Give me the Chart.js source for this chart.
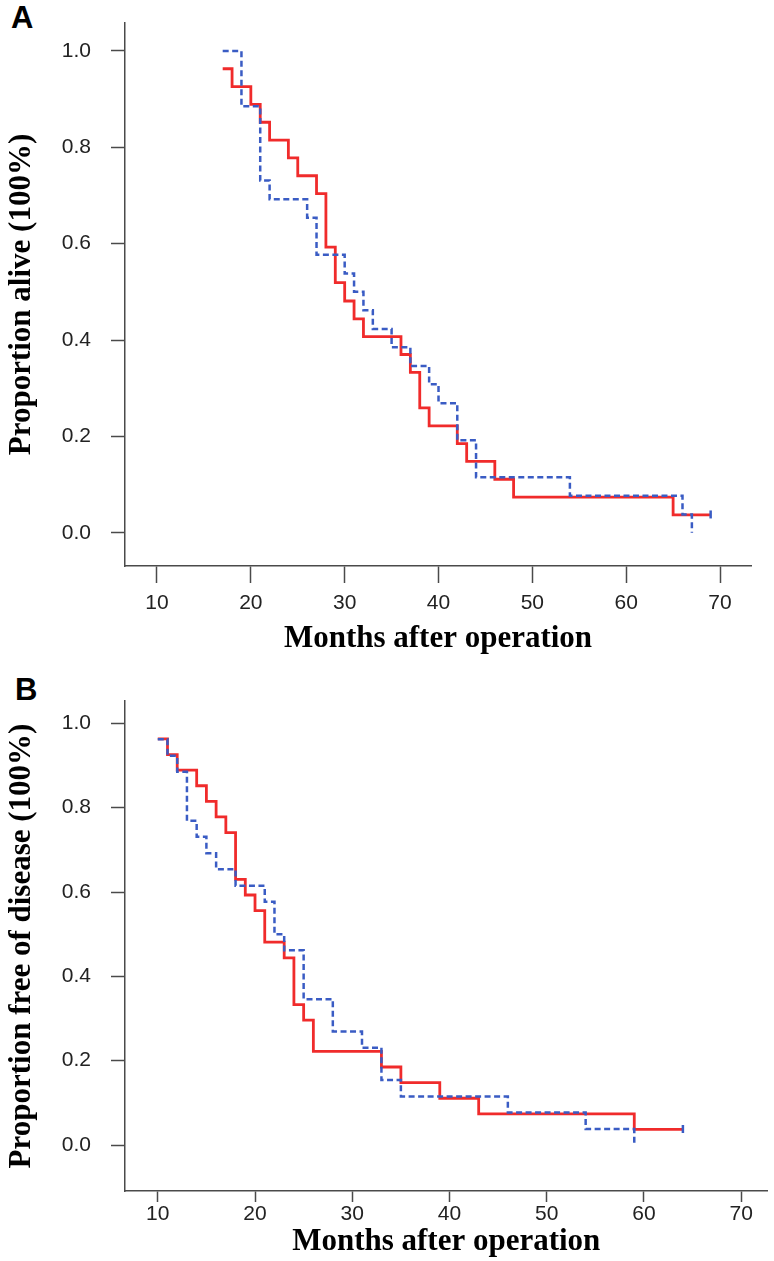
<!DOCTYPE html>
<html><head><meta charset="utf-8">
<script src="https://cdn.jsdelivr.net/npm/chart.js@4/dist/chart.umd.min.js"></script>
<style>
html,body{margin:0;padding:0;background:#fff;}
body{width:774px;height:1261px;position:relative;overflow:hidden;}
.lab{position:absolute;font-family:'Liberation Sans',Arial,sans-serif;font-weight:bold;font-size:31px;line-height:31px;color:#000;}
canvas{position:absolute;left:0;}
</style></head><body>
<div class="lab" style="left:11px;top:2px;">A</div>
<div class="lab" style="left:15px;top:674px;">B</div>
<canvas id="ca" width="774" height="660" style="top:0"></canvas>
<canvas id="cb" width="774" height="601" style="top:660px"></canvas>
<script>
// ---- data ----
const xTickValues = [10, 20, 30, 40, 50, 60, 70];
const yTickValues = [0.0, 0.2, 0.4, 0.6, 0.8, 1.0];

// Panel A: overall survival
const aRedMonths = [17, 18, 20, 21, 22, 24, 25, 27, 28, 29, 30, 31, 32, 36, 37, 38, 39, 42, 43, 46, 48, 65, 69];
const aRedSurv   = [0.963, 0.926, 0.889, 0.852, 0.815, 0.778, 0.741, 0.704, 0.593, 0.519, 0.481, 0.444, 0.407, 0.370, 0.333, 0.259, 0.222, 0.185, 0.148, 0.111, 0.074, 0.037, 0.037];
const aBlueMonths = [17, 19, 21, 22, 26, 27, 30, 31, 32, 33, 35, 37, 39, 40, 42, 44, 54, 66, 67];
const aBlueSurv   = [1.0, 0.885, 0.731, 0.692, 0.654, 0.577, 0.538, 0.500, 0.462, 0.423, 0.385, 0.346, 0.308, 0.269, 0.192, 0.115, 0.077, 0.038, 0.0];
const aBlueCensorMonths = [69];
const aBlueCensorSurv   = [0.038];

// Panel B: disease-free survival
const bRedMonths = [10, 11, 12, 14, 15, 16, 17, 18, 19, 20, 21, 23, 24, 25, 26, 33, 35, 39, 43, 59, 64];
const bRedSurv   = [0.963, 0.926, 0.889, 0.852, 0.815, 0.778, 0.741, 0.630, 0.593, 0.556, 0.481, 0.444, 0.333, 0.296, 0.222, 0.185, 0.148, 0.111, 0.074, 0.037, 0.037];
const bBlueMonths = [10, 11, 12, 13, 14, 15, 16, 18, 21, 22, 23, 25, 28, 31, 33, 35, 46, 54, 59];
const bBlueSurv   = [0.962, 0.923, 0.885, 0.769, 0.731, 0.692, 0.654, 0.615, 0.577, 0.500, 0.462, 0.346, 0.269, 0.231, 0.154, 0.115, 0.077, 0.038, 0.0];
const bBlueCensorMonths = [64];
const bBlueCensorSurv   = [0.038];

const xTitle = 'Months after operation';
const aYTitle = 'Proportion alive (100%)';
const bYTitle = 'Proportion free of disease (100%)';

// ---- styling ----
const RED = '#f02b2b';
const BLUE = '#3a5cc4';
const AX = '#4a4a4a';
Chart.defaults.font.family = "'Liberation Sans', Arial, sans-serif";

function pts(xs, ys) { return xs.map((x, i) => ({ x: x, y: ys[i] })); }

function makeChart(id, o) {
  return new Chart(document.getElementById(id), {
    type: 'line',
    data: {
      datasets: [
        { data: pts(o.blueCensorX, o.blueCensorY), showLine: false, pointStyle: 'line', rotation: 90,
          pointRadius: 4, pointBorderWidth: 2.5, pointBorderColor: BLUE, borderColor: BLUE },
        { data: pts(o.blueX, o.blueY), borderColor: BLUE, borderWidth: 2.5, borderDash: [6, 3.5],
          stepped: true, pointRadius: 0, fill: false },
        { data: pts(o.redX, o.redY), borderColor: RED, borderWidth: 2.8,
          stepped: true, pointRadius: 0, fill: false }
      ]
    },
    options: {
      responsive: false, animation: false, devicePixelRatio: 1,
      layout: { padding: o.pad },
      plugins: { legend: { display: false }, tooltip: { enabled: false } },
      scales: {
        x: {
          type: 'linear', min: o.xMin, max: o.xMax,
          afterBuildTicks: s => { s.ticks = xTickValues.map(v => ({ value: v })); },
          afterFit: s => { s.height = o.xAxisH; s.paddingLeft = 0; s.paddingRight = 0; },
          border: { display: true, color: AX, width: 1.5 },
          grid: { display: true, drawOnChartArea: false, drawTicks: true, tickLength: o.xTickLen, tickWidth: 1.5, tickColor: AX, color: AX },
          ticks: { color: '#222', font: { size: 21 }, padding: o.xTickPad, maxRotation: 0, autoSkip: false, callback: v => String(v) },
          title: { display: true, text: xTitle, color: '#000', font: { family: "'Liberation Serif', serif", size: 31, weight: 'bold' }, padding: { top: 0, bottom: o.xTitlePad } }
        },
        y: {
          type: 'linear', min: o.yMin, max: o.yMax,
          afterBuildTicks: s => { s.ticks = yTickValues.map(v => ({ value: v })); },
          afterFit: s => { s.width = 125; s.paddingTop = 0; s.paddingBottom = 0; },
          border: { display: true, color: AX, width: 1.5 },
          grid: { display: true, drawOnChartArea: false, drawTicks: true, tickLength: 14, tickWidth: 1.5, tickColor: AX, color: AX },
          ticks: { color: '#222', font: { size: 21 }, padding: 20, callback: v => Number(v).toFixed(1) },
          title: { display: true, text: o.yTitle, color: '#000', font: { family: "'Liberation Serif', serif", size: 31, weight: 'bold' }, padding: { top: 3, bottom: 0 } }
        }
      }
    }
  });
}

makeChart('ca', {
  redX: aRedMonths, redY: aRedSurv, blueX: aBlueMonths, blueY: aBlueSurv,
  blueCensorX: aBlueCensorMonths, blueCensorY: aBlueCensorSurv,
  xMin: 6.59, xMax: 73.3, yMin: -0.069, yMax: 1.058,
  pad: { top: 23, right: 23, left: 0, bottom: 0 },
  xAxisH: 94, xTickLen: 17, xTickPad: 8, xTitlePad: 2, yTitle: aYTitle
});
makeChart('cb', {
  redX: bRedMonths, redY: bRedSurv, blueX: bBlueMonths, blueY: bBlueSurv,
  blueCensorX: bBlueCensorMonths, blueCensorY: bBlueCensorSurv,
  xMin: 6.63, xMax: 72.7, yMin: -0.109, yMax: 1.053,
  pad: { top: 41, right: 4, left: 0, bottom: 0 },
  xAxisH: 70, xTickLen: 11, xTickPad: 0, xTitlePad: 0, yTitle: bYTitle
});
</script>
</body></html>
